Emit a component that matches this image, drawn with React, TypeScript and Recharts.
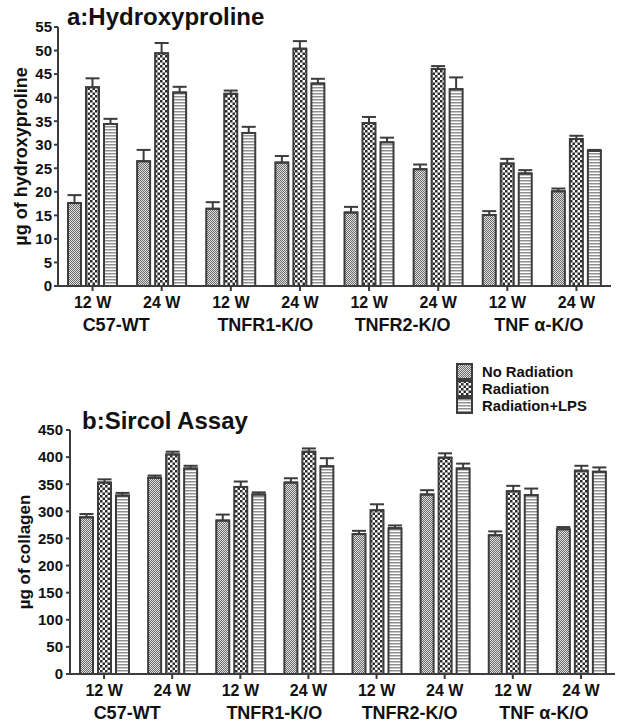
import React from 'react';
import { BarChart, Bar, XAxis, YAxis, ErrorBar, Legend } from 'recharts';

const categories = ['12 W', '24 W', '12 W', '24 W', '12 W', '24 W', '12 W', '24 W'];
const groupNames = ['C57-WT', 'TNFR1-K/O', 'TNFR2-K/O', 'TNF α-K/O'];
const seriesNames = ['No Radiation', 'Radiation', 'Radiation+LPS'];

// a: Hydroxyproline (µg)
const hypNoRad = [17.6, 26.5, 16.4, 26.2, 15.6, 24.8, 15.1, 20.1];
const hypNoRadErr = [1.7, 2.4, 1.4, 1.4, 1.2, 1.0, 0.8, 0.6];
const hypRad = [42.2, 49.4, 40.8, 50.4, 34.6, 46.1, 26.0, 31.2];
const hypRadErr = [1.9, 2.2, 0.7, 1.6, 1.3, 0.6, 1.0, 0.7];
const hypLps = [34.4, 41.1, 32.5, 43.0, 30.5, 41.8, 23.9, 28.7];
const hypLpsErr = [1.1, 1.2, 1.3, 1.0, 1.0, 2.5, 0.7, 0.2];
const hypTicks = [0, 5, 10, 15, 20, 25, 30, 35, 40, 45, 50, 55];

// b: Sircol assay (µg of collagen)
const colNoRad = [289, 362, 283, 353, 258, 331, 256, 267];
const colNoRadErr = [6, 4, 11, 8, 6, 8, 7, 4];
const colRad = [353, 405, 345, 410, 302, 399, 337, 375];
const colRadErr = [6, 5, 10, 6, 11, 8, 10, 9];
const colLps = [329, 379, 331, 383, 269, 379, 330, 373];
const colLpsErr = [5, 5, 4, 15, 5, 9, 12, 8];
const colTicks = [0, 50, 100, 150, 200, 250, 300, 350, 400, 450];

const FONT = '"Liberation Sans", Arial, Helvetica, sans-serif';
const INK = '#111';
const EDGE = '#3c3c3c';
const patternIds = ['patNoRad', 'patRad', 'patLps'];
const groupDx = [-11, 0, -1, -3];

function buildRows(a: number[], ae: number[], b: number[], be: number[], c: number[], ce: number[]) {
  return categories.map((cat, i) => ({
    cat,
    noRad: a[i],
    noRadErr: [0, ae[i]],
    rad: b[i],
    radErr: [0, be[i]],
    lps: c[i],
    lpsErr: [0, ce[i]],
  }));
}

const hypRows = buildRows(hypNoRad, hypNoRadErr, hypRad, hypRadErr, hypLps, hypLpsErr);
const colRows = buildRows(colNoRad, colNoRadErr, colRad, colRadErr, colLps, colLpsErr);

const makeTick = (band: number) => (props: any) => {
  const { x, y, payload, index } = props;
  const gi = Math.floor(index / 2);
  return (
    <g>
      <text x={x} y={y + 15} textAnchor="middle" fontSize={16} fontWeight="bold" fill={INK} fontFamily={FONT}>
        {payload.value}
      </text>
      {index % 2 === 0 && (
        <text
          x={x + band / 2 + groupDx[gi]}
          y={y + 38}
          textAnchor="middle"
          fontSize={18}
          fontWeight="bold"
          fill={INK}
          fontFamily={FONT}
        >
          {groupNames[gi]}
        </text>
      )}
    </g>
  );
};

const makeYLabel = (text: string, cx: number, size: number) => (props: any) => {
  const vb = props.viewBox || {};
  const cy = (vb.y || 0) + (vb.height || 0) / 2;
  return (
    <text
      x={cx}
      y={cy}
      transform={`rotate(-90 ${cx} ${cy})`}
      textAnchor="middle"
      dominantBaseline="central"
      fontSize={size}
      fontWeight="bold"
      fill={INK}
      fontFamily={FONT}
    >
      {text}
    </text>
  );
};

const ROW = 17;
const renderLegend = () => (
  <svg width={170} height={54}>
    {seriesNames.map((n, i) => (
      <g key={n}>
        <rect x={1} y={1 + i * ROW} width={15} height={15} fill={`url(#${patternIds[i]})`} stroke={EDGE} strokeWidth={2} />
        <text x={26} y={8.5 + i * ROW} dominantBaseline="central" fontSize={14.8} fontWeight="bold" fill={INK} fontFamily={FONT}>
          {n}
        </text>
      </g>
    ))}
  </svg>
);

const tickStyle = { fontSize: 15, fontWeight: 'bold' as const, fill: INK, fontFamily: FONT };

function seriesBars() {
  const keys = ['noRad', 'rad', 'lps'];
  return keys.map((k, i) => (
    <Bar
      key={k}
      dataKey={k}
      name={seriesNames[i]}
      fill={`url(#${patternIds[i]})`}
      stroke={EDGE}
      strokeWidth={2}
      isAnimationActive={false}
    >
      <ErrorBar dataKey={`${k}Err`} width={7} stroke={EDGE} strokeWidth={2} direction="y" />
    </Bar>
  ));
}

export default function App() {
  return (
    <div style={{ position: 'absolute', left: 0, top: 0, width: 624, height: 725, background: '#fff' }}>
      <svg width={624} height={725} style={{ position: 'absolute', left: 0, top: 0 }}>
        <defs>
          <pattern id="patNoRad" width={2} height={2} patternUnits="userSpaceOnUse">
            <rect x={0} y={0} width={2} height={2} fill="#e2e2e2" />
            <rect x={0} y={0} width={1} height={1} fill="#6a6a6a" />
            <rect x={1} y={1} width={1} height={1} fill="#6a6a6a" />
          </pattern>
          <pattern id="patRad" width={5} height={5} patternUnits="userSpaceOnUse">
            <rect x={0} y={0} width={5} height={5} fill="#fff" />
            <rect x={0} y={0} width={2.5} height={2.5} fill="#2a2a2a" />
            <rect x={2.5} y={2.5} width={2.5} height={2.5} fill="#2a2a2a" />
          </pattern>
          <pattern id="patLps" width={4} height={3} patternUnits="userSpaceOnUse">
            <rect x={0} y={0} width={4} height={3} fill="#fff" />
            <rect x={0} y={0} width={4} height={1.5} fill="#909090" />
          </pattern>
        </defs>
        <text x={67} y={25} fontSize={24} fontWeight="bold" fill={INK} fontFamily={FONT}>
          a:Hydroxyproline
        </text>
        <text x={82} y={429} fontSize={24} fontWeight="bold" fill={INK} fontFamily={FONT}>
          b:Sircol Assay
        </text>
      </svg>

      <div style={{ position: 'absolute', left: 0, top: 0 }}>
        <BarChart
          width={624}
          height={345}
          data={hypRows}
          margin={{ top: 27, right: 13, left: 8, bottom: 9 }}
          barSize={13}
          barGap={5}
        >
          <XAxis
            dataKey="cat"
            height={50}
            interval={0}
            tick={makeTick(553 / 8)}
            tickSize={5}
            tickLine={{ stroke: EDGE, strokeWidth: 2 }}
            axisLine={{ stroke: EDGE, strokeWidth: 2 }}
          />
          <YAxis
            width={50}
            domain={[0, 55]}
            ticks={hypTicks}
            interval={0}
            tick={tickStyle}
            tickSize={4}
            tickMargin={2}
            tickLine={{ stroke: EDGE, strokeWidth: 2 }}
            axisLine={{ stroke: EDGE, strokeWidth: 2 }}
            label={{ content: makeYLabel('µg of hydroxyproline', 21, 18) }}
          />
          {seriesBars()}
        </BarChart>
      </div>

      <div style={{ position: 'absolute', left: 0, top: 355 }}>
        <BarChart
          width={624}
          height={370}
          data={colRows}
          margin={{ top: 75, right: 9, left: 18, bottom: 6 }}
          barSize={13}
          barGap={5}
        >
          <XAxis
            dataKey="cat"
            height={45}
            interval={0}
            tick={makeTick(545 / 8)}
            tickSize={5}
            tickLine={{ stroke: EDGE, strokeWidth: 2 }}
            axisLine={{ stroke: EDGE, strokeWidth: 2 }}
          />
          <YAxis
            width={52}
            domain={[0, 450]}
            ticks={colTicks}
            interval={0}
            tick={tickStyle}
            tickSize={4}
            tickMargin={3}
            tickLine={{ stroke: EDGE, strokeWidth: 2 }}
            axisLine={{ stroke: EDGE, strokeWidth: 2 }}
            label={{ content: makeYLabel('µg of collagen', 24, 17) }}
          />
          <Legend
            layout="vertical"
            align="center"
            verticalAlign="middle"
            content={renderLegend}
            wrapperStyle={{ top: 8, left: 456, width: 170, height: 54 }}
          />
          {seriesBars()}
        </BarChart>
      </div>
    </div>
  );
}
